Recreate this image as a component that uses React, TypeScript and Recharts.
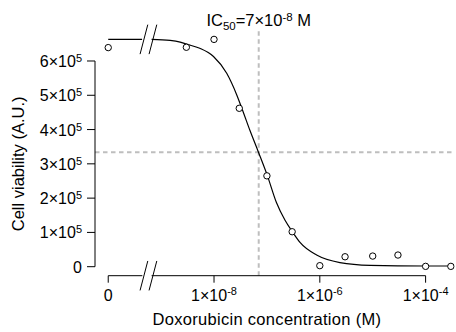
import React from 'react';
import { ComposedChart, Line, Scatter, XAxis, YAxis, ReferenceLine } from 'recharts';

// measured doses (M); the untreated control (0) is drawn left of the axis break
const concentrations = [0, 3e-9, 1e-8, 3e-8, 1e-7, 3e-7, 1e-6, 3e-6, 1e-5, 3e-5, 1e-4, 3e-4];
const viability = [639000, 640000, 663000, 462000, 265000, 102000, 3000, 29000, 31000, 34000, 1000, 1000];

// fitted dose-response curve, log10(M) against viability
const fitLogConcLeft = [-10, -9.36];
const fitViabilityLeft = [663000, 663000];
const fitLogConc = [-9.18, -8.83, -8.64, -8.52, -8.27, -8.01, -7.76, -7.57, -7.45, -7.32, -7.16, -6.99, -6.82, -6.66, -6.51, -6.37, -6.06, -5.62, -5.05, -4.0, -3.52];
const fitViability = [663000, 660000, 655000, 649000, 637000, 613000, 564000, 501000, 452000, 397000, 334000, 265000, 187000, 136000, 100000, 70000, 34000, 12000, 4000, 2000, 2000];

const xTicks = [-10, -8, -6, -4];
const yTicks = [0, 100000, 200000, 300000, 400000, 500000, 600000];

const IC50 = 7e-8;
const HALF_MAX = 334000;

// where things sit on the log axis
const ZERO_POS = -10;
const BREAK_FROM = -9.36;
const BREAK_TO = -9.18;
const SLASHES = [-9.325, -9.155];
const X_DOMAIN = [-10.25, -3.45];
const Y_DOMAIN = [-26250, 700000];
const AXIS_Y = Y_DOMAIN[0];
const LOG_AXIS_END = -4;
const IC_LINE_TOP = 693000;
const SLASH_DX = 0.073;
const SLASH_DY = 43000;

const FONT = '"Liberation Sans", Arial, Helvetica, sans-serif';
const GREY = '#bebebe';

const toPos = (c: number) => (c === 0 ? ZERO_POS : Math.log10(c));
const points = concentrations.map((c, i) => ({ x: toPos(c), y: viability[i] }));
const fitLeft = fitLogConcLeft.map((x, i) => ({ x, y: fitViabilityLeft[i] }));
const fitRight = fitLogConc.map((x, i) => ({ x, y: fitViability[i] }));

const XTick = ({ x, y, payload }: any) => {
  const v = payload.value;
  return (
    <text x={x} y={y + 16} textAnchor="middle" fontFamily={FONT} fontSize={16} fill="#000">
      {v === ZERO_POS ? '0' : '1×10'}
      {v !== ZERO_POS && (
        <tspan fontSize={11} dy={-6}>{String(v)}</tspan>
      )}
    </text>
  );
};

const YTick = ({ x, y, payload }: any) => {
  const v = payload.value;
  return (
    <text x={x} y={y + 6} textAnchor="end" fontFamily={FONT} fontSize={16} fill="#000">
      {v === 0 ? '0' : `${v / 100000}×10`}
      {v !== 0 && <tspan fontSize={11} dy={-5}>5</tspan>}
    </text>
  );
};

const XTitle = ({ viewBox }: any) => (
  <text x={viewBox.x + viewBox.width / 2} y={viewBox.y + 49.5} textAnchor="middle" fontFamily={FONT} fontSize={16.5} letterSpacing={0.3} fill="#000">
    Doxorubicin concentration (M)
  </text>
);

const YTitle = ({ viewBox }: any) => {
  const cx = viewBox.x - 71;
  const cy = viewBox.y + viewBox.height / 2;
  return (
    <text x={cx} y={cy} transform={`rotate(-90, ${cx}, ${cy})`} textAnchor="middle" fontFamily={FONT} fontSize={16.5} fill="#000">
      Cell viability (A.U.)
    </text>
  );
};

const IcTitle = ({ viewBox }: any) => (
  <text x={viewBox.x} y={viewBox.y - 3} textAnchor="middle" fontFamily={FONT} fontSize={16.5} fill="#000">
    IC<tspan fontSize={11.5} dy={3.5}>50</tspan>
    <tspan dy={-3.5}>=7×10</tspan>
    <tspan fontSize={11.5} dy={-5.5}>-8</tspan>
    <tspan dy={5.5}> M</tspan>
  </text>
);

const OpenDot = (p: any) => <circle cx={p.cx} cy={p.cy} r={3.2} fill="#fff" stroke="#000" strokeWidth={1} />;

const Slash = ({ at, y }: { at: number; y: number }) => (
  <ReferenceLine
    key={`${at}-${y}`}
    segment={[{ x: at - SLASH_DX, y: y - SLASH_DY }, { x: at + SLASH_DX, y: y + SLASH_DY }]}
    stroke="#000"
    strokeWidth={1}
    ifOverflow="visible"
  />
);

export default function App() {
  return (
    <div style={{ position: 'absolute', left: 0, top: 0 }}>
      <ComposedChart width={456} height={332} margin={{ top: 26.7, right: 1.3, left: 0, bottom: 0 }}>
        <XAxis
          type="number"
          dataKey="x"
          domain={X_DOMAIN}
          ticks={xTicks}
          interval={0}
          allowDataOverflow
          axisLine={false}
          tickSize={7}
          tickMargin={2}
          stroke="#000"
          height={56.3}
          tick={<XTick />}
        />
        <YAxis
          type="number"
          dataKey="y"
          domain={Y_DOMAIN}
          ticks={yTicks}
          interval={0}
          allowDataOverflow
          axisLine={false}
          tickSize={8}
          tickMargin={5}
          stroke="#000"
          width={95}
          tick={<YTick />}
        />

        {/* half-max and IC50 guides */}
        <ReferenceLine y={HALF_MAX} stroke={GREY} strokeWidth={2} strokeDasharray="4.5 3.5" />
        <ReferenceLine
          segment={[{ x: Math.log10(IC50), y: AXIS_Y }, { x: Math.log10(IC50), y: IC_LINE_TOP }]}
          stroke={GREY}
          strokeWidth={2}
          strokeDasharray="4.5 3.5"
          ifOverflow="visible"
          label={IcTitle}
        />

        {/* broken x axis and plain y axis */}
        <ReferenceLine
          segment={[{ x: ZERO_POS, y: AXIS_Y }, { x: BREAK_FROM + 0.005, y: AXIS_Y }]}
          stroke="#000"
          ifOverflow="visible"
        />
        <ReferenceLine
          segment={[{ x: BREAK_TO, y: AXIS_Y }, { x: LOG_AXIS_END, y: AXIS_Y }]}
          stroke="#000"
          ifOverflow="visible"
        />
        <ReferenceLine
          segment={[{ x: ZERO_POS, y: AXIS_Y }, { x: LOG_AXIS_END, y: AXIS_Y }]}
          stroke="none"
          ifOverflow="visible"
          label={XTitle}
        />
        <ReferenceLine
          segment={[{ x: X_DOMAIN[0], y: 0 }, { x: X_DOMAIN[0], y: 600000 }]}
          stroke="#000"
          ifOverflow="visible"
          label={YTitle}
        />
        {SLASHES.map((s) => Slash({ at: s, y: AXIS_Y }))}
        {SLASHES.map((s) => Slash({ at: s, y: fitViabilityLeft[0] }))}

        <Line data={fitLeft} dataKey="y" type="linear" stroke="#000" strokeWidth={1.2} dot={false} isAnimationActive={false} />
        <Line data={fitRight} dataKey="y" type="monotone" stroke="#000" strokeWidth={1.2} dot={false} isAnimationActive={false} />
        <Scatter data={points} dataKey="y" shape={OpenDot} isAnimationActive={false} />
      </ComposedChart>
    </div>
  );
}
